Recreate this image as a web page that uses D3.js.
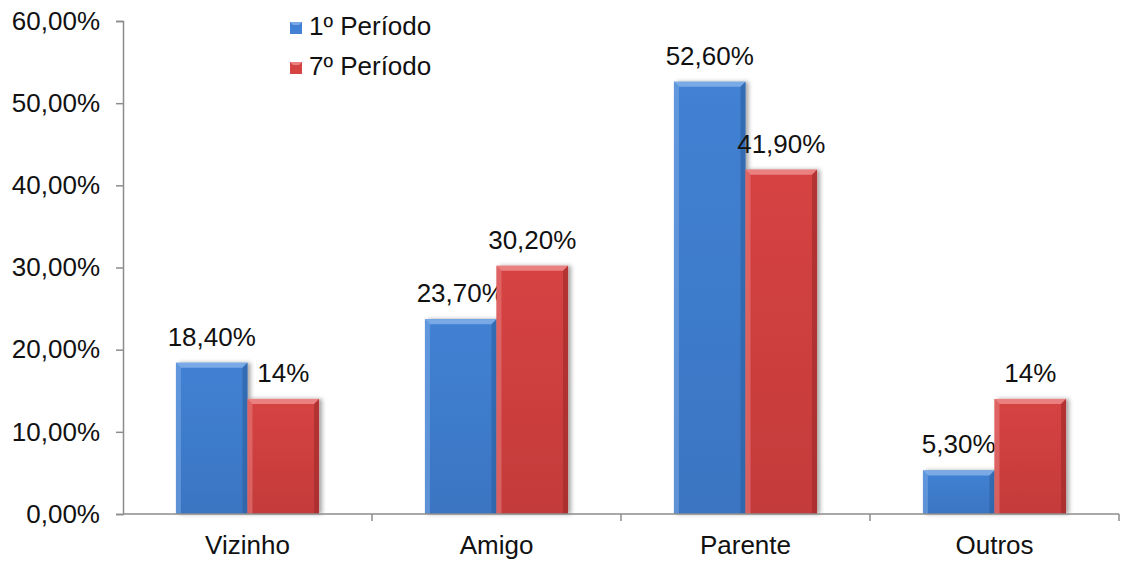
<!DOCTYPE html>
<html>
<head>
<meta charset="utf-8">
<script src="https://cdn.jsdelivr.net/npm/d3@7"></script>
<style>
  body { margin: 0; background: #fff; }
  text { font-family: "Liberation Sans", Arial, sans-serif; fill: #111; }
</style>
</head>
<body>
<div id="chart"></div>
<script>
// data
const categories = ["Vizinho", "Amigo", "Parente", "Outros"];
const seriesNames = ["1º Período", "7º Período"];
const periodo1 = [18.4, 23.7, 52.6, 5.3];
const periodo7 = [14, 30.2, 41.9, 14];
const labels1 = ["18,40%", "23,70%", "52,60%", "5,30%"];
const labels7 = ["14%", "30,20%", "41,90%", "14%"];
const yTicks = [0, 10, 20, 30, 40, 50, 60];

const width = 1121, height = 561;
const plotLeft = 123, plotRight = 1119, plotTop = 21, plotBottom = 514;
const fontSize = "26px";

const svg = d3.select("#chart")
    .append("svg")
    .attr("width", width)
    .attr("height", height);

const colors = [
    { base: "#4281d3", light: "#7aaae6", dark: "#2c5f9f", mid: "#3a75c2" },
    { base: "#d64343", light: "#ea8080", dark: "#9c2a2a", mid: "#c43a3a" }
];

const defs = svg.append("defs");
colors.forEach((c, i) => {
    const g = defs.append("linearGradient")
        .attr("id", "grad" + i)
        .attr("x1", 0).attr("y1", 0).attr("x2", 0).attr("y2", 1);
    g.append("stop").attr("offset", "0%").attr("stop-color", c.base);
    g.append("stop").attr("offset", "100%").attr("stop-color", c.mid);
});
const shadow = defs.append("filter").attr("id", "shadow")
    .attr("x", "-10%").attr("y", "-10%").attr("width", "130%").attr("height", "120%");
shadow.append("feDropShadow")
    .attr("dx", 3).attr("dy", 0).attr("stdDeviation", 2)
    .attr("flood-color", "#000").attr("flood-opacity", 0.35);

// scales
const x = d3.scaleBand()
    .domain(categories)
    .range([plotLeft, plotRight])
    .padding(0);

const xSub = d3.scaleBand()
    .domain([0, 1])
    .range([0, x.bandwidth()])
    .paddingInner(0)
    .paddingOuter(0.74);

const y = d3.scaleLinear()
    .domain([0, 60])
    .range([plotBottom, plotTop]);

// y axis
const yAxis = svg.append("g")
    .attr("transform", `translate(${plotLeft},0)`)
    .call(d3.axisLeft(y)
        .tickValues(yTicks)
        .tickSize(7)
        .tickPadding(16)
        .tickFormat(d => d.toFixed(2).replace(".", ",") + "%"));
yAxis.selectAll("path, line").attr("stroke", "#8c8c8c").attr("stroke-width", 1.5);
yAxis.selectAll("text")
    .style("font-size", fontSize)
    .style("font-family", "'Liberation Sans', Arial, sans-serif")
    .attr("fill", "#111");

// bars
const series = [periodo1, periodo7];
const labels = [labels1, labels7];
const bev = 5;

series.forEach((vals, si) => {
    const c = colors[si];
    categories.forEach((cat, ci) => {
        const bx = x(cat) + xSub(si);
        const bw = xSub.bandwidth();
        const by = y(vals[ci]);
        const bh = y(0) - by;
        const g = svg.append("g");
        g.append("rect")
            .attr("x", bx).attr("y", by)
            .attr("width", bw).attr("height", bh)
            .attr("fill", `url(#grad${si})`)
            .attr("filter", "url(#shadow)");
        // bevel edges
        g.append("polygon")
            .attr("points", [[bx, by], [bx + bw, by], [bx + bw - bev, by + bev], [bx + bev, by + bev]].join(" "))
            .attr("fill", c.light);
        g.append("polygon")
            .attr("points", [[bx, by], [bx + bev, by + bev], [bx + bev, by + bh], [bx, by + bh]].join(" "))
            .attr("fill", c.light).attr("opacity", 0.55);
        g.append("polygon")
            .attr("points", [[bx + bw, by], [bx + bw, by + bh], [bx + bw - bev, by + bh], [bx + bw - bev, by + bev]].join(" "))
            .attr("fill", c.dark).attr("opacity", 0.6);

        svg.append("text")
            .attr("x", bx + bw / 2)
            .attr("y", by - 17)
            .attr("text-anchor", "middle")
            .style("font-size", fontSize)
            .text(labels[si][ci]);
    });
});

// x axis
const xAxis = svg.append("g");
xAxis.append("line")
    .attr("x1", plotLeft).attr("x2", plotRight)
    .attr("y1", plotBottom).attr("y2", plotBottom)
    .attr("stroke", "#8c8c8c").attr("stroke-width", 1.5);
const edges = categories.map(c => x(c)).concat([x(categories[categories.length - 1]) + x.bandwidth()]);
xAxis.selectAll(".tick")
    .data(edges.slice(1))
    .enter()
    .append("line")
    .attr("x1", d => d).attr("x2", d => d)
    .attr("y1", plotBottom).attr("y2", plotBottom + 7)
    .attr("stroke", "#8c8c8c").attr("stroke-width", 1.5);
xAxis.selectAll(".cat")
    .data(categories)
    .enter()
    .append("text")
    .attr("x", d => x(d) + x.bandwidth() / 2)
    .attr("y", 554)
    .attr("text-anchor", "middle")
    .style("font-size", fontSize)
    .text(d => d);

// legend
const legend = svg.append("g").attr("transform", "translate(290,22)");
seriesNames.forEach((name, i) => {
    const row = legend.append("g").attr("transform", `translate(0,${i * 40})`);
    row.append("rect")
        .attr("width", 12).attr("height", 12)
        .attr("fill", colors[i].base);
    row.append("polygon")
        .attr("points", "0,0 12,0 9,3 3,3")
        .attr("fill", colors[i].light);
    row.append("text")
        .attr("x", 19).attr("y", 13)
        .style("font-size", fontSize)
        .text(name);
});
</script>
</body>
</html>
